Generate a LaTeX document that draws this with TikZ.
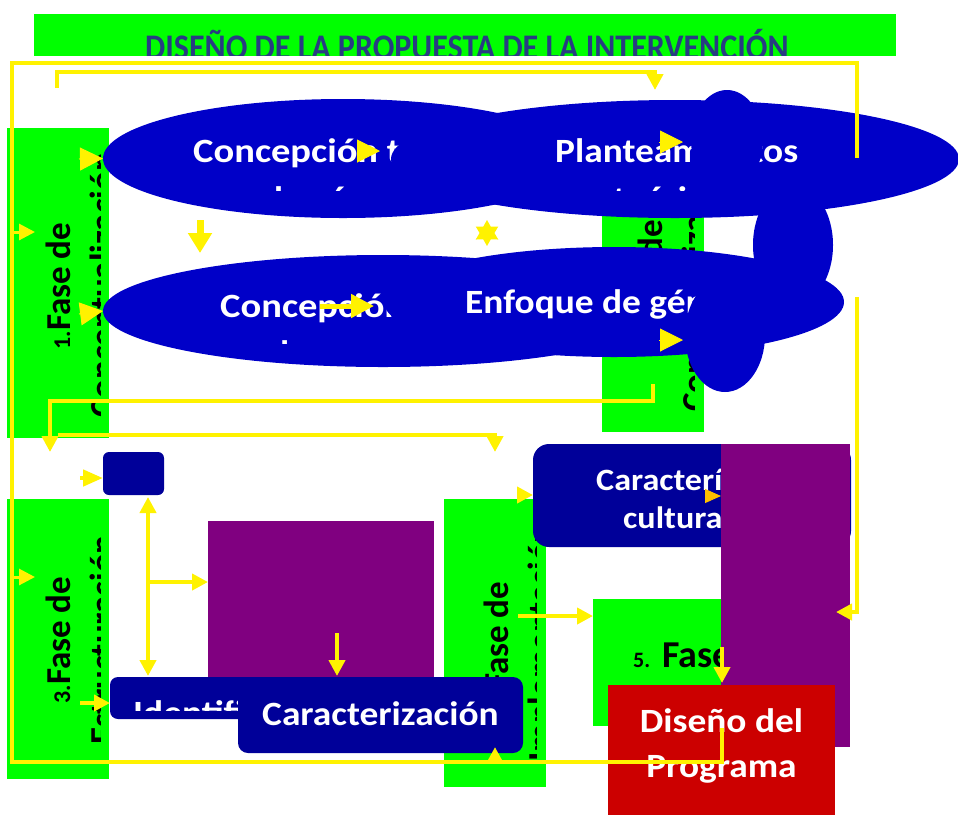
\documentclass[tikz,border=0pt]{standalone}
\usepackage{fontspec}
\setmainfont{Carlito}
\usetikzlibrary{shapes.geometric,arrows.meta}
\definecolor{fgreen}{RGB}{0,255,0}
\definecolor{eblue}{RGB}{0,0,200}
\definecolor{dblue}{RGB}{0,0,153}
\definecolor{fpurple}{RGB}{128,0,128}
\definecolor{fred}{RGB}{204,0,0}
\definecolor{tblue}{RGB}{40,60,130}
\definecolor{forange}{RGB}{255,192,0}

\begin{document}
\begin{tikzpicture}[x=1pt,y=-1pt,
  box/.style={anchor=north west, inner sep=0pt, outer sep=0pt},
  fase/.style={box, fill=fgreen},
  elip/.style={ellipse, fill=eblue, inner sep=0pt, outer sep=0pt},
  ftxt/.style={rotate=90, anchor=base, inner sep=0pt, font=\bfseries\fontsize{35}{42}\selectfont},
  etxt/.style={anchor=base west, inner sep=0pt, xscale=1.1, text=white, font=\bfseries\fontsize{34}{42}\selectfont},
  yline/.style={draw=yellow, line width=4.5pt},
  yarr/.style={yline, -{Triangle[length=16pt,width=16pt]}},
  yhead/.style={draw=yellow, line width=1pt, -{Triangle[length=23pt,width=23pt]}}]
\useasboundingbox (0,0) rectangle (958,815);

\node[fase, minimum width=862, minimum height=42] (T) at (34,14) {};
\begin{scope}
\clip (34,14) rectangle (896,55);
\node[anchor=base west, inner sep=0pt, xscale=0.89, text=tblue, font=\bfseries\fontsize{36}{42}\selectfont] (Ttxt) at (145,59) {DISEÑO DE LA PROPUESTA DE LA INTERVENCIÓN};
\end{scope}

\node[fase, minimum width=102, minimum height=310] (F1) at (7,128) {};
\begin{scope}
\clip (7,128) rectangle (100,438);
\node[ftxt] (F1a) at (70,286) {{\fontsize{24}{28}\selectfont 1.}Fase de};
\node[ftxt] (F1b) at (114,285) {Conceptualización};
\end{scope}
\node[fase, minimum width=102, minimum height=304] (F2) at (602,128) {};
\begin{scope}
\clip (602,128) rectangle (694,432);
\node[ftxt] (F2a) at (662,283) {{\fontsize{24}{28}\selectfont 2.}Fase de};
\node[ftxt] (F2b) at (706,283) {Contextualización};
\end{scope}

\node[elip, minimum width=480, minimum height=119] (E1) at (343,158.5) {};
\begin{scope}
\clip (0,0) rectangle (958,190);
\node[etxt, xscale=1.03] (E1a) at (193,162) {Concepción teórica};
\node[etxt] (E1b) at (263,210) {de género};
\end{scope}
\node[elip, minimum width=568, minimum height=118] (E2) at (675,159) {};
\begin{scope}
\clip (0,0) rectangle (958,190);
\node[etxt] (E2a) at (555,162) {Planteamientos};
\node[etxt] (E2b) at (613,210) {teóricos};
\end{scope}
\node[elip, minimum width=560, minimum height=112] (E3) at (383,311) {};
\begin{scope}
\clip (0,0) rectangle (958,343);
\node[etxt, xscale=1.03] (E3a) at (220,317) {Concepción de desarrollo};
\node[etxt] (E3b) at (280,364) {humano};
\end{scope}
\node[elip, minimum width=460, minimum height=110] (E4) at (614,302) {};
\node[etxt] (E4a) at (465,313) {Enfoque de género};
\fill[eblue] (727,140) ellipse [x radius=36pt, y radius=50pt]
  (793,245) ellipse [x radius=40pt, y radius=60pt]
  (725,335) ellipse [x radius=40pt, y radius=57pt];
\node[star, star points=6, star point ratio=1.75, fill=yellow, minimum size=26pt, inner sep=0pt] (S) at (487,233) {};

\node[fase, minimum width=102, minimum height=280] (F3) at (7,499) {};
\begin{scope}
\clip (7,499) rectangle (100,779);
\node[ftxt] (F3a) at (70,640) {{\fontsize{24}{28}\selectfont 3.}Fase de};
\node[ftxt] (F3b) at (114,640) {Estructuración};
\end{scope}
\node[box, fill=fpurple, minimum width=226, minimum height=180] (P1) at (208,521) {};
\node[box, fill=dblue, rounded corners=6pt, minimum width=61, minimum height=43] (B1) at (103,452) {};
\node[box, fill=dblue, rounded corners=8pt, minimum width=290, minimum height=42] (B2) at (110,677) {};
\begin{scope}
\clip (0,0) rectangle (958,710);
\node[etxt] (B2a) at (133,724) {Identificación};
\end{scope}
\node[fase, minimum width=102, minimum height=288] (F4) at (444,499) {};
\begin{scope}
\clip (444,499) rectangle (536,787);
\node[ftxt] (F4a) at (508,645) {{\fontsize{24}{28}\selectfont 4.}Fase de};
\node[ftxt] (F4b) at (552,643) {Implementación};
\end{scope}
\node[box, fill=dblue, rounded corners=10pt, minimum width=285, minimum height=76] (B3) at (238,677) {};
\node[etxt] (B3a) at (262,725) {Caracterización};
\node[box, fill=dblue, rounded corners=16pt, minimum width=318, minimum height=103] (B4) at (533,444) {};
\node[etxt, font=\bfseries\fontsize{31}{36}\selectfont] (B4a) at (596,490) {Características};
\node[etxt, font=\bfseries\fontsize{31}{36}\selectfont] (B4b) at (623,528) {culturales};
\node[fase, minimum width=247, minimum height=127] (F5) at (593,599) {};
\begin{scope}
\clip (593,599) rectangle (840,726);
\node[anchor=base west, inner sep=0pt, font=\bfseries\fontsize{38}{46}\selectfont] (F5a) at (633,667) {{\fontsize{22}{26}\selectfont 5.}\hspace{12pt}Fase de};
\end{scope}
\node[box, fill=fpurple, minimum width=129, minimum height=303] (P2) at (721,444) {};
\node[box, fill=fred, minimum width=227, minimum height=130] (R) at (608,685) {};
\node[anchor=base, inner sep=0pt, xscale=1.1, text=white, font=\bfseries\fontsize{34}{42}\selectfont] (Ra) at (721.5,732) {Diseño del};
\node[anchor=base, inner sep=0pt, xscale=1.1, text=white, font=\bfseries\fontsize{34}{42}\selectfont] (Rb) at (721.5,777) {Programa};

\coordinate (L1) at (857,158);
\coordinate (L2) at (857,63);
\coordinate (L3) at (12,63);
\coordinate (L4) at (12,762);
\coordinate (L5) at (722,762);
\coordinate (L6) at (722,728);
\coordinate (M1) at (57,88);
\coordinate (M2) at (57,72);
\coordinate (M3) at (655,72);
\coordinate (M4) at (655,90);
\coordinate (N1) at (653,384);
\coordinate (N2) at (653,401);
\coordinate (N3) at (50,401);
\coordinate (N4) at (50,452);
\coordinate (Q1) at (58,435);
\coordinate (Q2) at (495,435);
\coordinate (Q3) at (495,452);
\coordinate (R1) at (857,297);
\coordinate (R2) at (857,612);
\coordinate (R3) at (836,612);
\coordinate (A1) at (12,232);
\coordinate (A2) at (35,232);
\coordinate (A3) at (12,577);
\coordinate (A4) at (35,577);
\coordinate (H1) at (79,159);
\coordinate (H2) at (79,314);
\coordinate (H3) at (357,151);
\coordinate (H4) at (380,151);
\coordinate (H5) at (659,142);
\coordinate (H6) at (683,142);
\coordinate (H7) at (659,340);
\coordinate (H8) at (683,340);
\coordinate (H9) at (320,306);
\coordinate (H10) at (374,306);
\coordinate (D1) at (200,220);
\coordinate (D2) at (200,253);
\coordinate (K1) at (80,478);
\coordinate (K2) at (103,478);
\coordinate (K3) at (148,497);
\coordinate (K4) at (148,676);
\coordinate (K5) at (148,582);
\coordinate (K6) at (208,582);
\coordinate (K7) at (337,633);
\coordinate (K8) at (337,676);
\coordinate (K9) at (80,703);
\coordinate (K10) at (110,703);
\coordinate (K11) at (495,762);
\coordinate (K12) at (495,747);
\coordinate (K13) at (518,616);
\coordinate (K14) at (593,616);
\coordinate (K15) at (517,495);
\coordinate (K16) at (533,495);
\coordinate (K17) at (705,496);
\coordinate (K18) at (721,496);
\coordinate (K19) at (722,647);
\coordinate (K20) at (722,683);

\draw[yline] (L1) -- (L2) -- (L3) -- (L4) -- (L5) -- (L6);
\draw[yarr] (M1) -- (M2) -- (M3) -- (M4);
\draw[yarr] (N1) -- (N2) -- (N3) -- (N4);
\draw[yarr] (Q1) -- (Q2) -- (Q3);
\draw[yarr] (R1) -- (R2) -- (R3);
\draw[yarr, line width=3pt] (A1) -- (A2);
\draw[yarr, line width=3pt] (A3) -- (A4);
\draw[yhead] (H1) -- (E1.west);
\draw[yhead] (H2) -- (E3.west);
\draw[yhead] (H3) -- (H4);
\draw[yhead] (H5) -- (H6);
\draw[yhead] (H7) -- (H8);
\draw[yhead, line width=5pt] (H9) -- (H10);
\draw[yline, line width=7pt, -{Triangle[length=20pt,width=23pt]}] (D1) -- (D2);
\draw[yarr, -{Triangle[length=20pt,width=16pt]}] (K1) -- (K2);
\draw[yarr, {Triangle[length=16pt,width=16pt]}-{Triangle[length=16pt,width=16pt]}] (K3) -- (K4);
\draw[yarr] (K5) -- (K6);
\draw[yarr] (K7) -- (K8);
\draw[yarr] (K9) -- (K10);
\draw[yarr] (K11) -- (K12);
\draw[yarr] (K13) -- (K14);
\draw[yarr] (K15) -- (K16);
\draw[draw=forange, line width=1pt, -{Triangle[length=16pt,width=14pt]}, forange] (K17) -- (K18);
\draw[yarr] (K19) -- (K20);
\end{tikzpicture}
\end{document}
